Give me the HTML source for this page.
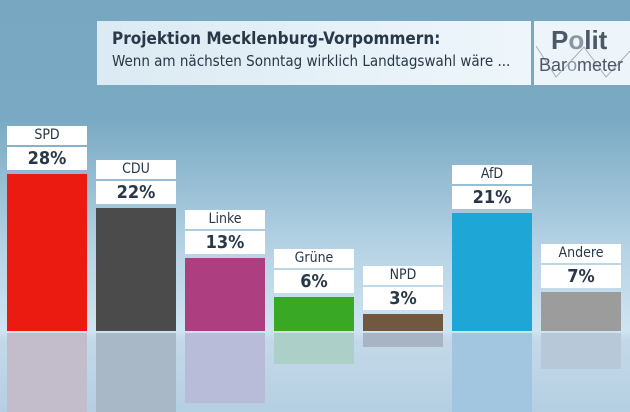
<!DOCTYPE html>
<html style="overflow:hidden"><head><meta charset="utf-8"><style>
html,body{margin:0;width:630px;height:412px;overflow:hidden;}
body{position:relative;font-family:"DejaVu Sans Condensed","DejaVu Sans","Liberation Sans",sans-serif;}
#bg{position:absolute;left:0;top:0;width:630px;height:412px;background:linear-gradient(#78a8c1 0px,#7aaac3 120px,#b6d3e5 250px,#cfe4f1 331px,#c3d9e9 340px,#b5cfe2 412px);}
#chart{position:absolute;left:0;top:0;width:630px;height:412px;overflow:hidden;}
.hdr{position:absolute;left:97px;top:21px;width:434px;height:64px;background:linear-gradient(90deg,#dbeaf3,#eef6fb);}
.t1{position:absolute;left:15px;top:8px;font-size:17px;font-weight:bold;color:#283848;}
.t2{position:absolute;left:15px;top:31px;font-size:15px;color:#283848;}
.logo{position:absolute;left:534px;top:21px;width:96px;height:64px;background:#eef5fa;overflow:hidden;}
.box{position:absolute;background:#fff;color:#283848;text-align:center;}
.nm{font-size:14px;line-height:19px;height:19px;}
.vl{font-size:18px;font-weight:bold;line-height:23px;height:23px;}
</style></head><body>
<div id="bg"></div>
<div class="hdr">
<div class="t1">Projektion Mecklenburg-Vorpommern:</div>
<div class="t2">Wenn am nächsten Sonntag wirklich Landtagswahl wäre ...</div>
</div>
<div class="logo">
<svg width="96" height="64" style="position:absolute;left:0;top:0"><polyline points="2,25 22,56 50,26 72,56 96,30" fill="none" stroke="#aab" stroke-width="1"/></svg>
<div style="position:absolute;left:17px;top:4px;font-size:26px;font-weight:bold;color:#4a5868;font-family:'Liberation Sans',sans-serif">P<span style="color:#8a96a4">o</span>lit</div>
<div style="position:absolute;left:5px;top:34px;font-size:18px;color:#4a5868;font-family:'Liberation Sans',sans-serif">Bar<span style="color:#8a96a4">o</span>meter</div>
</div>
<div id="chart"></div>
<script>
const parties=["SPD","CDU","Linke","Grüne","NPD","AfD","Andere"];
const values=[28,22,13,6,3,21,7];
const colors=["#ec1b12","#4b4b4b","#ad3f80","#39a824","#735840","#1ea6d6","#9c9c9c"];
const reflColors=["#c2bccb","#a8b8c6","#b8bcd8","#acd0c8","#a6b4c4","#a2c6e0","#b7c9d8"];
const base=331, scale=5.6, x0=7, step=89, bw=80;
function yOf(v){return base-v*scale;}
function xOf(i){return x0+i*step;}
const ch=document.getElementById('chart');
parties.forEach((p,i)=>{
  const x=xOf(i), top=yOf(values[i]), h=base-top;
  const b=document.createElement('div');
  
  
  b.style.cssText=`position:absolute;left:${x}px;top:${top}px;width:${bw}px;height:${h}px;background:${colors[i]}`;
  ch.appendChild(b);
  const r=document.createElement('div');
  
  
  const rh=Math.max(0,Math.min(h-3,412-base-2));
  r.style.cssText=`position:absolute;left:${x}px;top:${base+2}px;width:${bw}px;height:${rh}px;background:${reflColors[i]}`;
  ch.appendChild(r);
  const v=document.createElement('div');
  
  
  v.className='box vl';
  v.style.cssText=`left:${x}px;top:${top-27}px;width:${bw}px`;
  v.textContent=values[i]+'%';
  ch.appendChild(v);
  const n=document.createElement('div');
  
  
  n.className='box nm';
  n.style.cssText=`left:${x}px;top:${top-48}px;width:${bw}px`;
  n.textContent=p;
  ch.appendChild(n);
});
</script>
</body></html>
